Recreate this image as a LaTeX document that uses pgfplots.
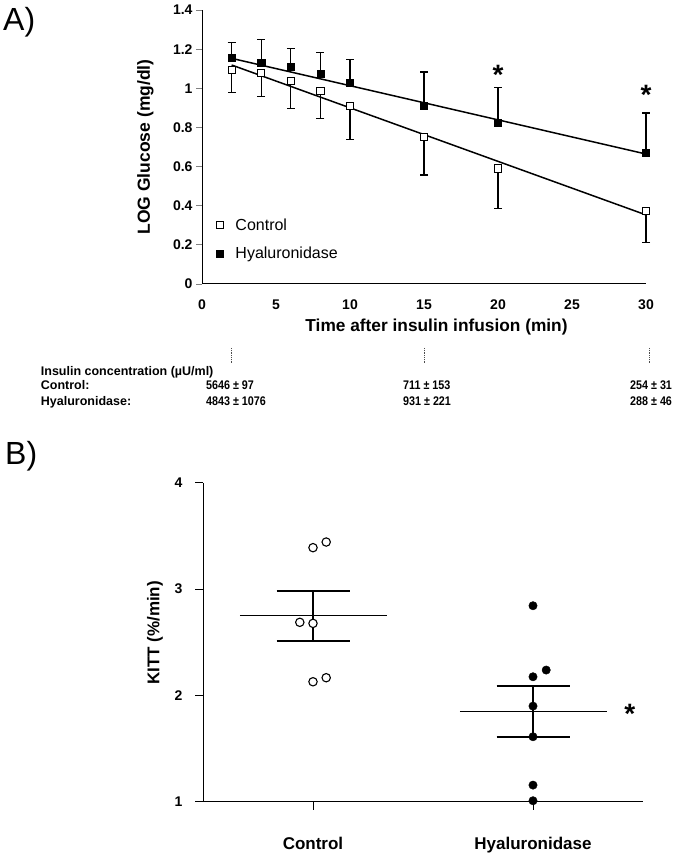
\documentclass[border=0pt]{standalone}
\usepackage{fontspec}
\setmainfont{Liberation Sans}
\newfontfamily\narrowfont[FakeStretch=0.86]{Liberation Sans}
\usepackage{pgfplots}
\pgfplotsset{compat=1.18}

\begin{document}
\begin{tikzpicture}
\path[use as bounding box] (0,0) rectangle (675bp,857bp);

% ---------------- Panel A ----------------
\begin{axis}[
  at={(202bp,573bp)}, anchor=south west,
  width=444bp, height=274bp, scale only axis,
  xmin=0, xmax=30, ymin=0, ymax=1.4,
  clip=false,
  axis x line*=bottom, axis y line*=left,
  axis line style={line width=1bp, -},
  xtick={0,5,10,15,20,25,30},
  xticklabels={0,5,10,15,20,25,30},
  ytick={0,0.2,0.4,0.6,0.8,1,1.2,1.4},
  yticklabels={0,0.2,0.4,0.6,0.8,1,1.2,1.4},
  xtick style={draw=none},
  ytick style={line width=0.8bp},
  tick align=outside, major tick length=6bp,
  /pgf/number format/assume math mode=true,
  tick label style={font=\bfseries\fontsize{14bp}{16bp}\selectfont},
  yticklabel style={anchor=east, xshift=0bp},
  xticklabel style={anchor=base, yshift=-20bp},
  legend style={at={(axis cs:0.75,0.355)}, anchor=north west, draw=none, fill=none,
    font=\fontsize{16bp}{18bp}\selectfont, row sep=11bp,
    /tikz/every odd column/.append style={column sep=10bp}},
  legend cell align=left,
]
% fitted lines
\addplot[black, line width=1.5bp, forget plot] coordinates {(2,1.119) (30,0.353)};
\addplot[black, line width=1.5bp, forget plot] coordinates {(2,1.153) (30,0.664)};
% Control
\addplot[only marks, mark=square*, mark size=3.6bp,
  mark options={fill=white, draw=black, line width=0.7bp},
  error bars/.cd, y dir=minus, y explicit,
  error bar style={line width=1.2bp, black},
  error mark options={rotate=90, mark size=4bp, line width=1.2bp, black}]
  coordinates {
  (2,1.094) -= (0,0.116)
  (4,1.077) -= (0,0.120)
  (6,1.039) -= (0,0.143)
  (8,0.988) -= (0,0.141)
  (10,0.910) -= (0,0.173)
  (15,0.753) -= (0,0.196)
  (20,0.591) -= (0,0.204)
  (30,0.373) -= (0,0.162)
  };
\addlegendentry{Control}
% Hyaluronidase
\addplot[only marks, mark=square*, mark size=3.6bp,
  mark options={fill=black, draw=black},
  error bars/.cd, y dir=plus, y explicit,
  error bar style={line width=1.2bp, black},
  error mark options={rotate=90, mark size=4bp, line width=1.2bp, black}]
  coordinates {
  (2,1.158) += (0,0.075)
  (4,1.131) += (0,0.120)
  (6,1.110) += (0,0.094)
  (8,1.073) += (0,0.111)
  (10,1.029) += (0,0.119)
  (15,0.910) += (0,0.173)
  (20,0.824) += (0,0.179)
  (30,0.671) += (0,0.203)
  };
\addlegendentry{Hyaluronidase}
% significance stars
\node[font=\bfseries\fontsize{28bp}{30bp}\selectfont, inner sep=0pt, yshift=-6bp] at (axis cs:20,1.099) {*};
\node[font=\bfseries\fontsize{28bp}{30bp}\selectfont, inner sep=0pt, yshift=-6bp] at (axis cs:30,0.996) {*};
% dotted guide marks for the insulin table
\draw[densely dotted, line width=0.8bp, gray!60!black] (axis cs:2,-0.327) -- (axis cs:2,-0.404);
\draw[densely dotted, line width=0.8bp, gray!60!black] (axis cs:15,-0.327) -- (axis cs:15,-0.404);
\draw[densely dotted, line width=0.8bp, gray!60!black] (axis cs:30.2,-0.327) -- (axis cs:30.2,-0.404);
\end{axis}

% axis labels panel A
\node[rotate=90, font=\bfseries\fontsize{17.5bp}{20bp}\selectfont, inner sep=0pt] at (145.5bp,710bp) {LOG Glucose (mg/dl)};
\node[anchor=base, font=\bfseries\fontsize{17.3bp}{20bp}\selectfont, inner sep=0pt] at (436.5bp,525bp) {Time after insulin infusion (min)};

% panel letters
\node[anchor=base west, font=\fontsize{32bp}{34bp}\selectfont, inner sep=0pt] at (3bp,826bp) {A)};
\node[anchor=base west, font=\fontsize{32bp}{34bp}\selectfont, inner sep=0pt] at (5bp,392bp) {B)};

% insulin table
\begin{scope}[every node/.style={anchor=base west, inner sep=0pt, font=\bfseries\fontsize{12.5bp}{14bp}\selectfont}]
\node at (40.7bp,481.3bp) {Insulin concentration (µU/ml)};
\node at (40.7bp,467bp) {Control:};
\node at (40.7bp,451.3bp) {Hyaluronidase:};
\end{scope}
\begin{scope}[every node/.style={anchor=base west, inner sep=0pt, font=\narrowfont\bfseries\fontsize{12.5bp}{14bp}\selectfont}]
\node at (206bp,467bp) {5646 ± 97};
\node at (206bp,451.3bp) {4843 ± 1076};
\node at (403bp,467bp) {711 ± 153};
\node at (403bp,451.3bp) {931 ± 221};
\node at (630bp,467bp) {254 ± 31};
\node at (630bp,451.3bp) {288 ± 46};
\end{scope}

% ---------------- Panel B ----------------
\begin{axis}[
  at={(203bp,55.3bp)}, anchor=south west,
  width=440bp, height=319bp, scale only axis,
  xmin=0.5, xmax=2.5, ymin=1, ymax=4,
  clip=false,
  axis x line*=bottom, axis y line*=left,
  axis line style={line width=1bp, -},
  xtick={1,2}, xticklabels={Control,Hyaluronidase},
  ytick={1,2,3,4}, yticklabels={1,2,3,4},
  tick align=outside, major tick length=8bp,
  tick style={line width=0.8bp, black},
  /pgf/number format/assume math mode=true,
  yticklabel style={font=\bfseries\fontsize{14bp}{16bp}\selectfont, xshift=-9bp},
  xticklabel style={font=\bfseries\fontsize{17bp}{19bp}\selectfont, anchor=base, yshift=-40bp},
]
% Control mean and SEM
\addplot[black, line width=1bp] coordinates {(0.668,2.749) (1.335,2.749)};
\addplot[black, line width=2bp] coordinates {(1,2.511) (1,2.981)};
\addplot[black, line width=2bp] coordinates {(0.835,2.981) (1.17,2.981)};
\addplot[black, line width=2bp] coordinates {(0.835,2.511) (1.17,2.511)};
% Hyaluronidase mean and SEM
\addplot[black, line width=1bp] coordinates {(1.668,1.846) (2.335,1.846)};
\addplot[black, line width=2bp] coordinates {(2,1.608) (2,2.087)};
\addplot[black, line width=2bp] coordinates {(1.835,2.087) (2.17,2.087)};
\addplot[black, line width=2bp] coordinates {(1.835,1.608) (2.17,1.608)};
% individual values
\addplot[only marks, mark=*, mark size=4.2bp, mark options={fill=white, draw=black, line width=1.1bp}]
  coordinates {(1,3.389) (1.06,3.442) (0.94,2.687) (1,2.677) (1,2.128) (1.06,2.166)};
\addplot[only marks, mark=*, mark size=4.2bp, mark options={fill=black, draw=black}]
  coordinates {(2,2.843) (2.06,2.238) (2,2.175) (2,1.899) (2,1.611) (2,1.156) (2,1.009)};
\node[font=\bfseries\fontsize{28bp}{30bp}\selectfont, inner sep=0pt, yshift=-6bp] at (axis cs:2.44,1.878) {*};
\end{axis}
\node[rotate=90, font=\bfseries\fontsize{17bp}{19bp}\selectfont, inner sep=0pt] at (155bp,224bp) {KITT (\%/min)};
\end{tikzpicture}
\end{document}
